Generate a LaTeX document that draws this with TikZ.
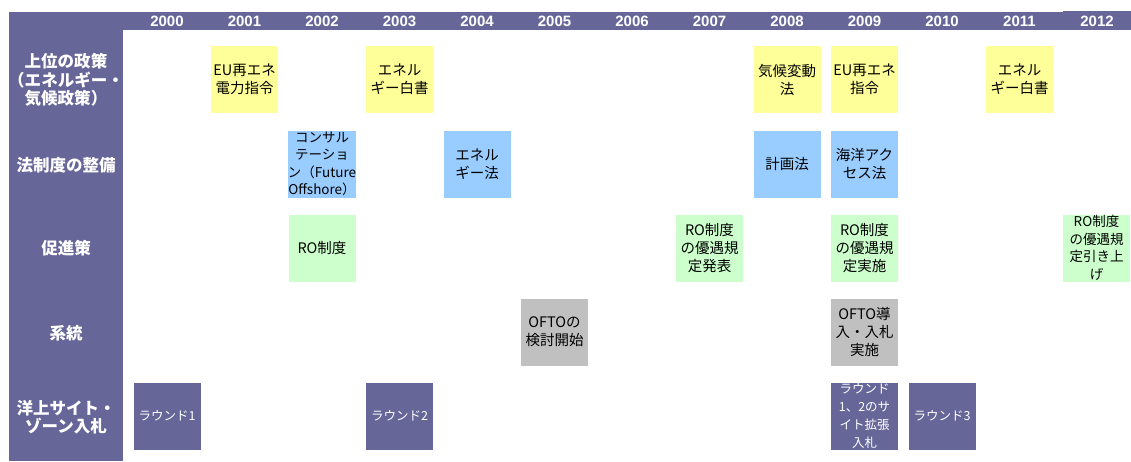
\documentclass[tikz,border=0pt]{standalone}
\usepackage{fontspec}
\setmainfont{Noto Sans CJK JP}
\newfontfamily\hdrfont{Liberation Sans}
\definecolor{pur}{HTML}{666699}
\definecolor{yel}{HTML}{FFFF99}
\definecolor{blu}{HTML}{99CCFF}
\definecolor{grn}{HTML}{CCFFCC}
\definecolor{gry}{HTML}{C0C0C0}
\tikzset{
  cell/.style={minimum width=67pt, minimum height=67pt, inner sep=0pt, align=center,
    font=\fontsize{14.5}{18}\selectfont},
  small/.style={font=\fontsize{13.5}{17.5}\selectfont},
  yelbox/.style={cell, fill=yel},
  blubox/.style={cell, fill=blu},
  grnbox/.style={cell, fill=grn},
  grybox/.style={cell, fill=gry},
  roundbox/.style={cell, fill=pur, text=white, font=\fontsize{12.5}{17.8}\selectfont},
  yearlbl/.style={text=white, inner sep=0pt, font=\hdrfont\bfseries\fontsize{15}{16}\selectfont},
  rowlbl/.style={text=white, inner sep=0pt, align=center, font=\bfseries\fontsize{16.5}{18.5}\selectfont}
}
\begin{document}
\begin{tikzpicture}[x=1pt,y=-1pt]
\useasboundingbox (0,0) rectangle (1131,461);
% frame
\fill[pur] (9,12) rectangle (123,461);
\fill[pur] (123,12) rectangle (1131,30);
\fill[pur] (1063,11) rectangle (1131,30);
% years
\foreach \yr/\xx in {2000/167,2001/244.5,2002/322,2003/399.5,2004/477,2005/554.5,2006/632,2007/709.5,2008/787,2009/864.5,2010/942,2011/1019.5,2012/1097}
  \node[yearlbl] (y\yr) at (\xx,21) {\yr};
% row labels
\node[rowlbl] (r1) at (66,80) {上位の政策\\（エネルギー・\\気候政策）};
\node[rowlbl] (r2) at (66,165) {法制度の整備};
\node[rowlbl] (r3) at (66,248) {促進策};
\node[rowlbl] (r4) at (66,333) {系統};
\node[rowlbl] (r5) at (66,417) {洋上サイト・\\ゾーン入札};
% row 1
\node[yelbox] (a2001) at (244.5,79.5) {EU再エネ\\電力指令};
\node[yelbox] (a2003) at (399.5,79.5) {エネル\\ギー白書};
\node[yelbox] (a2008) at (787,79.5) {気候変動\\法};
\node[yelbox] (a2009) at (864.5,79.5) {EU再エネ\\指令};
\node[yelbox] (a2011) at (1019.5,79.5) {エネル\\ギー白書};
% row 2
\node[blubox,small] (b2002) at (322,164) {コンサル\\テーショ\\ン（Future\\Offshore）};
\node[blubox] (b2004) at (477,164) {エネル\\ギー法};
\node[blubox] (b2008) at (787,164) {計画法};
\node[blubox] (b2009) at (864.5,164) {海洋アク\\セス法};
% row 3
\node[grnbox] (c2002) at (322,248) {RO制度};
\node[grnbox] (c2007) at (709.5,248) {RO制度\\の優遇規\\定発表};
\node[grnbox] (c2009) at (864.5,248) {RO制度\\の優遇規\\定実施};
\node[grnbox,small] (c2012) at (1096.5,248) {RO制度\\の優遇規\\定引き上\\げ};
% row 4
\node[grybox] (d2005) at (554.5,332) {OFTOの\\検討開始};
\node[grybox] (d2009) at (864.5,332) {OFTO導\\入・入札\\実施};
% row 5
\node[roundbox] (e2000) at (167,416) {ラウンド1};
\node[roundbox] (e2003) at (399.5,416) {ラウンド2};
\node[roundbox] (e2009) at (864.5,416) {ラウンド\\1、2のサ\\イト拡張\\入札};
\node[roundbox] (e2010) at (942,416) {ラウンド3};
\end{tikzpicture}
\end{document}
